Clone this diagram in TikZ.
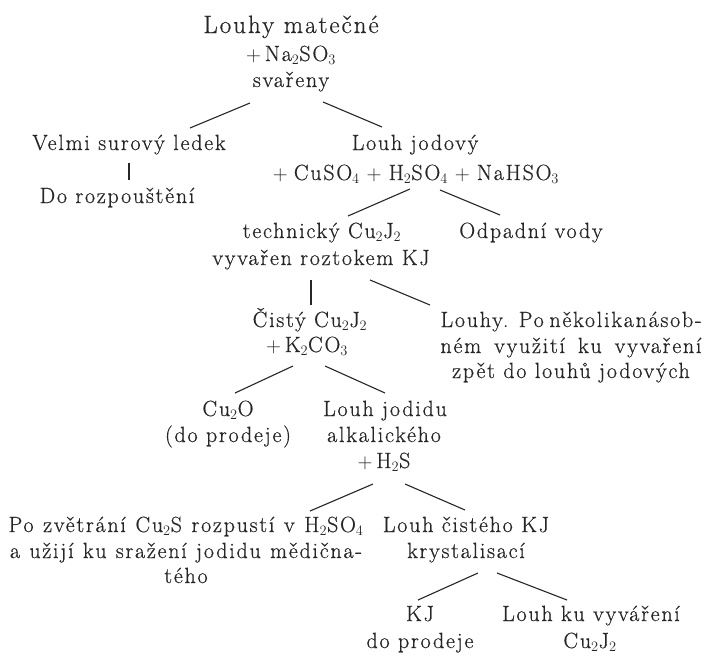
\documentclass[tikz,border=0pt]{standalone}
\usepackage{fontspec}
\setmainfont{Latin Modern Roman}[LetterSpace=8,FakeBold=0.6]
\definecolor{ink}{HTML}{262626}
\tikzset{
  txt/.style={anchor=base, inner sep=0pt, text=ink, font=\fontsize{22}{26}\selectfont},
  big/.style={txt, font=\fontsize{25}{30}\selectfont},
  ln/.style={draw=ink, line width=1.1pt}
}
\newcommand{\sub}[1]{$_{#1}$}
\newcommand{\pl}{\hspace{7pt}$+$\hspace{7pt}}
\begin{document}
\begin{tikzpicture}[x=1pt,y=-1pt]
\useasboundingbox (0,0) rectangle (709,654);
% text
\node[big] (t1) at (291,33) {Louhy matečné};
\node[txt] (t2) at (291,61) {$+$\,Na\sub{2}SO\sub{3}};
\node[txt] (t3) at (291,87) {svařeny};
\node[txt] (a1) at (129,150) {Velmi surový ledek};
\node[txt] (a2) at (117,203) {Do rozpouštění};
\node[txt] (b1) at (415,150) {Louh jodový};
\node[txt] (b2) at (416,180) {$+$\hspace{6pt}CuSO\sub{4}\pl H\sub{2}SO\sub{4}\pl NaHSO\sub{3}};
\node[txt] (c1) at (322,238) {technický Cu\sub{2}J\sub{2}};
\node[txt] (c2) at (321,265) {vyvařen roztokem KJ};
\node[txt] (d1) at (531,238) {Odpadní vody};
\node[txt] (e1) at (310,327) {Čistý Cu\sub{2}J\sub{2}};
\node[txt] (e2) at (307,352) {$+$\,K\sub{2}CO\sub{3}};
\node[txt] (r1) at (571,327) {\makebox[261pt][s]{Louhy. Po několikanásob-}};
\node[txt] (r2) at (571,353) {\makebox[261pt][s]{ném využití ku vyvaření}};
\node[txt] (r3) at (571,378) {zpět do louhů jodových};
\node[txt] (f1) at (228,416) {Cu\sub{2}O};
\node[txt] (f2) at (228,442) {(do prodeje)};
\node[txt] (g1) at (385,416) {Louh jodidu};
\node[txt] (g2) at (384,442) {alkalického};
\node[txt] (g3) at (384,468) {$+$\,H\sub{2}S};
\node[txt] (h1) at (186,532) {\makebox[355pt][s]{Po zvětrání Cu\sub{2}S rozpustí v H\sub{2}SO\sub{4}}};
\node[txt] (h2) at (186,558) {\makebox[352pt][s]{a užijí ku sražení jodidu mědična-}};
\node[txt] (h3) at (186,583) {tého};
\node[txt] (k1) at (466,532) {Louh čistého KJ};
\node[txt] (k2) at (466,558) {krystalisací};
\node[txt] (m1) at (420,621) {KJ};
\node[txt] (m2) at (420,648) {do prodeje};
\node[txt] (n1) at (591,621) {Louh ku vyváření};
\node[txt] (n2) at (590,648) {Cu\sub{2}J\sub{2}};
% connector ends
\coordinate (p1) at (250,103); \coordinate (q1) at (190,128);
\coordinate (p2) at (323,102); \coordinate (q2) at (382,127);
\coordinate (p3) at (129,163); \coordinate (q3) at (129,180);
\coordinate (p4) at (410,189); \coordinate (q4) at (348,216);
\coordinate (p5) at (440,190); \coordinate (q5) at (500,215);
\coordinate (p6) at (311,280); \coordinate (q6) at (311,305);
\coordinate (p7) at (370,280); \coordinate (q7) at (430,305);
\coordinate (p8) at (293,366); \coordinate (q8) at (235,393);
\coordinate (p9) at (325,366); \coordinate (q9) at (385,393);
\coordinate (p10) at (373,484); \coordinate (q10) at (310,511);
\coordinate (p11) at (405,484); \coordinate (q11) at (465,510);
\coordinate (p12) at (478,573); \coordinate (q12) at (418,600);
\coordinate (p13) at (497,573); \coordinate (q13) at (567,600);
\foreach \i in {1,...,13} { \draw[ln] (p\i) -- (q\i); }
\end{tikzpicture}
\end{document}
